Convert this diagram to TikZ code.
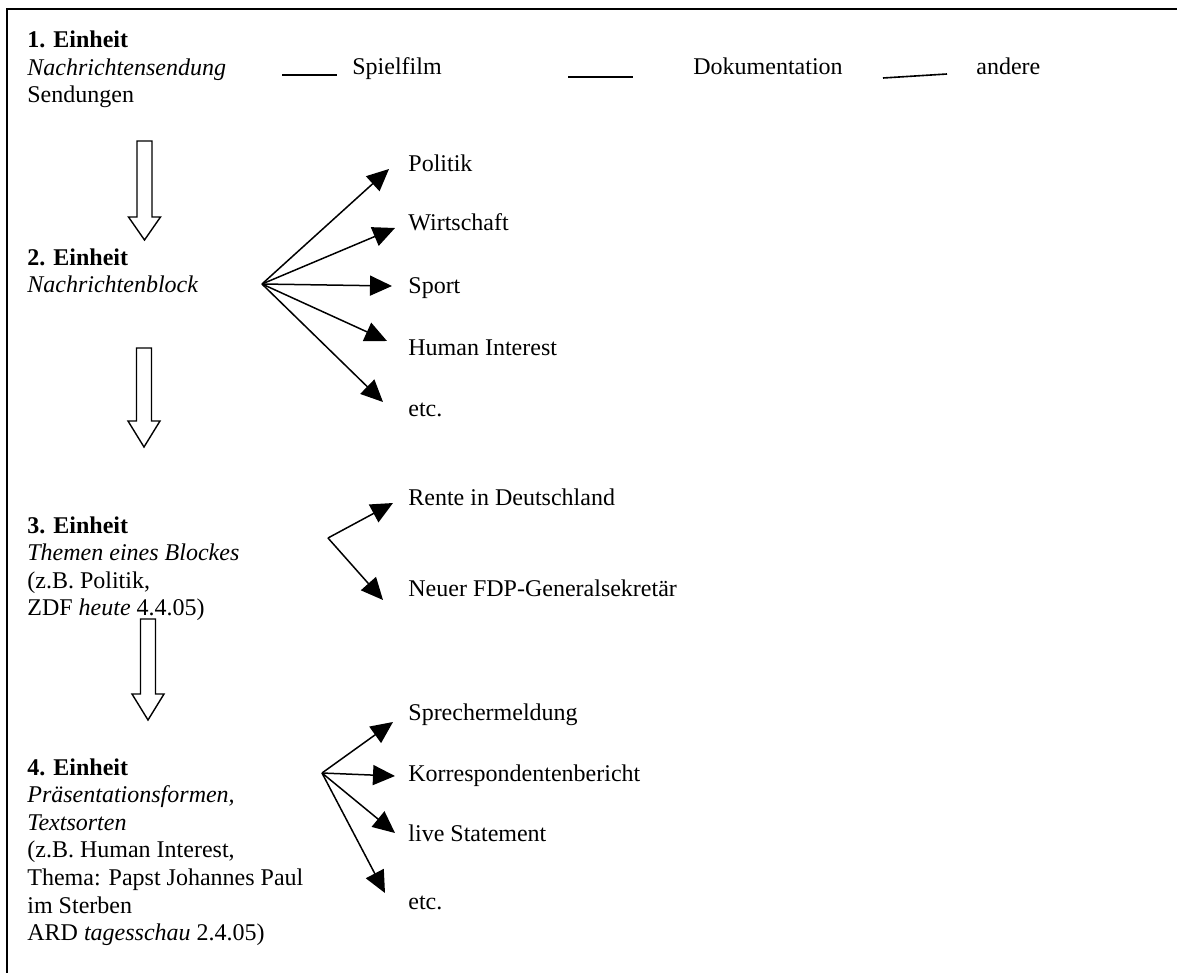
\documentclass[tikz,border=0pt]{standalone}
\usepackage{fontspec}
\setmainfont{Liberation Serif}
\usetikzlibrary{arrows.meta}
\newcommand\blockarrow[4]{%
  \draw[hollow] (#1-7.5,#2) -- (#1+7.5,#2) -- (#1+7.5,#3) -- (#1+16,#3) -- (#1,#4)
    -- (#1-16,#3) -- (#1-7.5,#3) -- cycle;}
\begin{document}
\begin{tikzpicture}[x=0.5pt,y=-0.5pt,
  txt/.style={inner sep=0pt, anchor=base west, font=\fontsize{12}{13.8}\selectfont},
  blk/.style={txt, anchor=north west, align=left},
  fan/.style={line width=0.75pt, -{Triangle[length=11pt,width=10pt]}},
  sepline/.style={line width=0.8pt},
  frame/.style={line width=1.1pt},
  hollow/.style={line width=0.7pt, fill=white},
]
\useasboundingbox (0,0) rectangle (1177,973);
% frame
\draw[frame] (7,973) -- (7,9) -- (1177,9);

% ---- Einheit 1
\node[blk] (e1) at (27,30.5) {\textbf{1. Einheit}\\\textit{Nachrichtensendung}\\Sendungen};
\node[txt] (spiel) at (352,75) {Spielfilm};
\node[txt] (doku) at (693,75) {Dokumentation};
\node[txt] (andere) at (976,75) {andere};
\coordinate (l1a) at (282,75); \coordinate (l1b) at (337,75);
\coordinate (l2a) at (568,77); \coordinate (l2b) at (633,77);
\coordinate (l3a) at (883,78); \coordinate (l3b) at (947,74);
\draw[sepline] (l1a) -- (l1b);
\draw[sepline] (l2a) -- (l2b);
\draw[sepline] (l3a) -- (l3b);

\blockarrow{144.5}{141}{217}{240}

% ---- Einheit 2
\node[blk] (e2) at (27,248) {\textbf{2. Einheit}\\\textit{Nachrichtenblock}};
\coordinate (o2) at (262,284);
\node[txt] (politik) at (408,172) {Politik};
\node[txt] (wirt) at (408,231) {Wirtschaft};
\node[txt] (sport) at (408,293) {Sport};
\node[txt] (human) at (408,355) {Human Interest};
\node[txt] (etc2) at (408,416) {etc.};
\coordinate (t21) at (389,169);
\coordinate (t22) at (395,228);
\coordinate (t23) at (392,286);
\coordinate (t24) at (387,341);
\coordinate (t25) at (383,402);
\foreach \t in {t21,t22,t23,t24,t25} \draw[fan] (o2) -- (\t);

\blockarrow{144}{348}{421}{447}

% ---- Einheit 3
\node[blk] (e3) at (27,516) {\textbf{3. Einheit}\\\textit{Themen eines Blockes}\\(z.B. Politik,\\ZDF \textit{heute} 4.4.05)};
\coordinate (o3) at (328,538);
\node[txt] (rente) at (408,505) {Rente in Deutschland};
\node[txt] (fdp) at (408,596) {Neuer FDP-Generalsekretär};
\coordinate (t31) at (393,503);
\coordinate (t32) at (383,600);
\draw[fan] (o3) -- (t31);
\draw[fan] (o3) -- (t32);

\blockarrow{148}{619}{694}{720}

% ---- Einheit 4
\node[blk] (e4) at (27,758) {\textbf{4. Einheit}\\\textit{Präsentationsformen,}\\\textit{Textsorten}\\(z.B. Human Interest,\\Thema: Papst Johannes Paul\\im Sterben\\ARD \textit{tagesschau} 2.4.05)};
\coordinate (o4) at (322,773);
\node[txt] (sprech) at (408,720) {Sprechermeldung};
\node[txt] (korr) at (408,781) {Korrespondentenbericht};
\node[txt] (live) at (408,841) {live Statement};
\node[txt] (etc4) at (408,909) {etc.};
\coordinate (t41) at (393,722);
\coordinate (t42) at (395,776);
\coordinate (t43) at (395,833);
\coordinate (t44) at (385,893);
\foreach \t in {t41,t42,t43,t44} \draw[fan] (o4) -- (\t);
\end{tikzpicture}
\end{document}
